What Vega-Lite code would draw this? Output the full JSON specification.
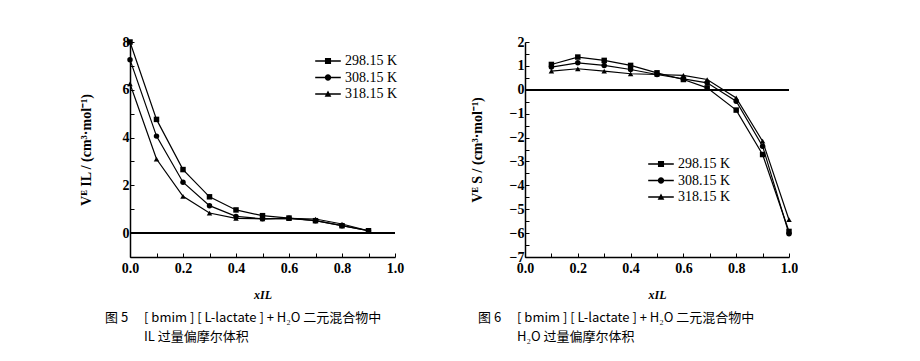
{
  "$schema": "https://vega.github.io/schema/vega-lite/v6.json",
  "autosize": {"type": "pad"},
  "padding": {"left": 79, "top": 35, "right": 0, "bottom": 0},
  "bounds": "flush",
  "spacing": 130,
  "datasets": {
    "fig5": [
      {"x": 0.0, "y": 8.0, "T": "298.15 K"}, {"x": 0.1, "y": 4.76, "T": "298.15 K"}, {"x": 0.2, "y": 2.66, "T": "298.15 K"}, {"x": 0.3, "y": 1.52, "T": "298.15 K"}, {"x": 0.4, "y": 0.97, "T": "298.15 K"}, {"x": 0.5, "y": 0.73, "T": "298.15 K"}, {"x": 0.6, "y": 0.63, "T": "298.15 K"}, {"x": 0.7, "y": 0.52, "T": "298.15 K"}, {"x": 0.8, "y": 0.31, "T": "298.15 K"}, {"x": 0.9, "y": 0.1, "T": "298.15 K"},
      {"x": 0.0, "y": 7.26, "T": "308.15 K"}, {"x": 0.1, "y": 4.06, "T": "308.15 K"}, {"x": 0.2, "y": 2.13, "T": "308.15 K"}, {"x": 0.3, "y": 1.15, "T": "308.15 K"}, {"x": 0.4, "y": 0.7, "T": "308.15 K"}, {"x": 0.5, "y": 0.6, "T": "308.15 K"}, {"x": 0.6, "y": 0.62, "T": "308.15 K"}, {"x": 0.7, "y": 0.52, "T": "308.15 K"}, {"x": 0.8, "y": 0.31, "T": "308.15 K"}, {"x": 0.9, "y": 0.1, "T": "308.15 K"},
      {"x": 0.0, "y": 6.25, "T": "318.15 K"}, {"x": 0.1, "y": 3.1, "T": "318.15 K"}, {"x": 0.2, "y": 1.54, "T": "318.15 K"}, {"x": 0.3, "y": 0.84, "T": "318.15 K"}, {"x": 0.4, "y": 0.62, "T": "318.15 K"}, {"x": 0.5, "y": 0.6, "T": "318.15 K"}, {"x": 0.6, "y": 0.62, "T": "318.15 K"}, {"x": 0.7, "y": 0.59, "T": "318.15 K"}, {"x": 0.8, "y": 0.38, "T": "318.15 K"}, {"x": 0.9, "y": 0.1, "T": "318.15 K"}
    ],
    "fig6": [
      {"x": 0.1, "y": 1.06, "T": "298.15 K"}, {"x": 0.2, "y": 1.37, "T": "298.15 K"}, {"x": 0.3, "y": 1.23, "T": "298.15 K"}, {"x": 0.4, "y": 1.02, "T": "298.15 K"}, {"x": 0.5, "y": 0.71, "T": "298.15 K"}, {"x": 0.6, "y": 0.43, "T": "298.15 K"}, {"x": 0.69, "y": 0.08, "T": "298.15 K"}, {"x": 0.8, "y": -0.85, "T": "298.15 K"}, {"x": 0.9, "y": -2.71, "T": "298.15 K"}, {"x": 1.0, "y": -5.93, "T": "298.15 K"},
      {"x": 0.1, "y": 0.95, "T": "308.15 K"}, {"x": 0.2, "y": 1.13, "T": "308.15 K"}, {"x": 0.3, "y": 1.02, "T": "308.15 K"}, {"x": 0.4, "y": 0.85, "T": "308.15 K"}, {"x": 0.5, "y": 0.64, "T": "308.15 K"}, {"x": 0.6, "y": 0.46, "T": "308.15 K"}, {"x": 0.69, "y": 0.29, "T": "308.15 K"}, {"x": 0.8, "y": -0.48, "T": "308.15 K"}, {"x": 0.9, "y": -2.36, "T": "308.15 K"}, {"x": 1.0, "y": -6.03, "T": "308.15 K"},
      {"x": 0.1, "y": 0.78, "T": "318.15 K"}, {"x": 0.2, "y": 0.88, "T": "318.15 K"}, {"x": 0.3, "y": 0.78, "T": "318.15 K"}, {"x": 0.4, "y": 0.67, "T": "318.15 K"}, {"x": 0.5, "y": 0.64, "T": "318.15 K"}, {"x": 0.6, "y": 0.6, "T": "318.15 K"}, {"x": 0.69, "y": 0.43, "T": "318.15 K"}, {"x": 0.8, "y": -0.34, "T": "318.15 K"}, {"x": 0.9, "y": -2.15, "T": "318.15 K"}, {"x": 1.0, "y": -5.44, "T": "318.15 K"}
    ]
  },
  "hconcat": [
    {
      "width": 265,
      "height": 215,
      "title": {"text": ["图 5\u2003 [ bmim ] [ L-lactate ] + H₂O 二元混合物中", "\u200b\u2003\u2003\u2003IL 过量偏摩尔体积"], "orient": "bottom", "anchor": "start", "frame": "group", "dx": -25},
      "data": {"name": "fig5"},
      "resolve": {"scale": {"shape": "independent"}, "legend": {"shape": "independent"}},
      "layer": [
        {
          "mark": {"type": "line", "color": "black", "strokeWidth": 1.2},
          "encoding": {
            "x": {"field": "x", "type": "quantitative", "scale": {"domain": [0, 1], "nice": false}, "axis": {"title": "xIL", "tickCount": 100, "labelOverlap": false, "values": [0, 0.1, 0.2, 0.3, 0.4, 0.5, 0.6, 0.7, 0.8, 0.9, 1.0], "labelExpr": "round(datum.value*10) % 2 == 0 ? format(datum.value, '.1f') : ''"}},
            "y": {"field": "y", "type": "quantitative", "scale": {"domain": [-1, 8], "nice": false}, "axis": {"title": "Vᴱ IL / (cm³·mol⁻¹)", "titlePadding": 29, "tickCount": 100, "labelOverlap": false, "values": [-1, 0, 1, 2, 3, 4, 5, 6, 7, 8], "labelExpr": "datum.value % 2 == 0 ? format(datum.value, 'd') : ''"}},
            "detail": {"field": "T"}
          }
        },
        {"mark": {"type": "rule", "color": "black", "strokeWidth": 1}, "encoding": {"y": {"datum": 0, "type": "quantitative", "axis": {"title": "Vᴱ IL / (cm³·mol⁻¹)", "titlePadding": 29, "tickCount": 100, "labelOverlap": false, "values": [-1, 0, 1, 2, 3, 4, 5, 6, 7, 8], "labelExpr": "datum.value % 2 == 0 ? format(datum.value, 'd') : ''"}}}},
        {
          "mark": {"type": "point", "filled": true, "color": "black", "size": 30, "opacity": 1},
          "encoding": {
            "x": {"field": "x", "type": "quantitative"},
            "y": {"field": "y", "type": "quantitative"},
            "shape": {"field": "T", "type": "nominal", "scale": {"domain": ["298.15 K", "308.15 K", "318.15 K"], "range": ["square", "circle", "triangle-up"]}, "legend": null}
          }
        },
        {
          "mark": {"type": "point", "filled": true, "color": "black", "size": 30, "opacity": 0},
          "encoding": {
            "x": {"field": "x", "type": "quantitative"},
            "y": {"field": "y", "type": "quantitative"},
            "shape": {"field": "T", "type": "nominal", "scale": {"domain": ["298.15 K", "308.15 K", "318.15 K"], "range": ["M-1.6,-0.08H1.6V0.08H-1.6Z M-0.38,-0.38H0.38V0.38H-0.38Z", "M-1.6,-0.08H1.6V0.08H-1.6Z M-0.4,0A0.4,0.4 0 1,1 0.4,0A0.4,0.4 0 1,1 -0.4,0Z", "M-1.6,-0.08H1.6V0.08H-1.6Z M0,-0.45L0.42,0.33L-0.42,0.33Z"]},
              "legend": {"orient": "none", "legendX": 190, "legendY": 11, "title": null, "padding": 0, "symbolSize": 256, "symbolOpacity": 1, "symbolFillColor": "black", "symbolStrokeWidth": 0, "labelFont": "Liberation Serif", "labelFontSize": 14, "labelColor": "black", "labelOffset": 9, "rowPadding": 1.5}}
          }
        }
      ]
    },
    {
      "width": 264,
      "height": 215,
      "title": {"text": ["图 6\u2003 [ bmim ] [ L-lactate ] + H₂O 二元混合物中", "\u200b\u2003\u2003\u2003H₂O 过量偏摩尔体积"], "orient": "bottom", "anchor": "start", "frame": "group", "dx": -47},
      "data": {"name": "fig6"},
      "resolve": {"scale": {"shape": "independent"}, "legend": {"shape": "independent"}},
      "layer": [
        {
          "mark": {"type": "line", "color": "black", "strokeWidth": 1.2},
          "encoding": {
            "x": {"field": "x", "type": "quantitative", "scale": {"domain": [0, 1], "nice": false}, "axis": {"title": "xIL", "tickCount": 100, "labelOverlap": false, "values": [0, 0.1, 0.2, 0.3, 0.4, 0.5, 0.6, 0.7, 0.8, 0.9, 1.0], "labelExpr": "round(datum.value*10) % 2 == 0 ? format(datum.value, '.1f') : ''"}},
            "y": {"field": "y", "type": "quantitative", "scale": {"domain": [-7, 2], "nice": false}, "axis": {"title": "Vᴱ S / (cm³·mol⁻¹)", "titlePadding": 25, "tickCount": 100, "labelOverlap": false, "values": [-7, -6.5, -6, -5.5, -5, -4.5, -4, -3.5, -3, -2.5, -2, -1.5, -1, -0.5, 0, 0.5, 1, 1.5, 2], "labelExpr": "datum.value % 1 == 0 ? format(datum.value, 'd') : ''"}},
            "detail": {"field": "T"}
          }
        },
        {"mark": {"type": "rule", "color": "black", "strokeWidth": 1}, "encoding": {"y": {"datum": 0, "type": "quantitative", "axis": {"title": "Vᴱ S / (cm³·mol⁻¹)", "titlePadding": 25, "tickCount": 100, "labelOverlap": false, "values": [-7, -6.5, -6, -5.5, -5, -4.5, -4, -3.5, -3, -2.5, -2, -1.5, -1, -0.5, 0, 0.5, 1, 1.5, 2], "labelExpr": "datum.value % 1 == 0 ? format(datum.value, 'd') : ''"}}}},
        {
          "mark": {"type": "point", "filled": true, "color": "black", "size": 30, "opacity": 1},
          "encoding": {
            "x": {"field": "x", "type": "quantitative"},
            "y": {"field": "y", "type": "quantitative"},
            "shape": {"field": "T", "type": "nominal", "scale": {"domain": ["298.15 K", "308.15 K", "318.15 K"], "range": ["square", "circle", "triangle-up"]}, "legend": null}
          }
        },
        {
          "mark": {"type": "point", "filled": true, "color": "black", "size": 30, "opacity": 0},
          "encoding": {
            "x": {"field": "x", "type": "quantitative"},
            "y": {"field": "y", "type": "quantitative"},
            "shape": {"field": "T", "type": "nominal", "scale": {"domain": ["298.15 K", "308.15 K", "318.15 K"], "range": ["M-1.6,-0.08H1.6V0.08H-1.6Z M-0.38,-0.38H0.38V0.38H-0.38Z", "M-1.6,-0.08H1.6V0.08H-1.6Z M-0.4,0A0.4,0.4 0 1,1 0.4,0A0.4,0.4 0 1,1 -0.4,0Z", "M-1.6,-0.08H1.6V0.08H-1.6Z M0,-0.45L0.42,0.33L-0.42,0.33Z"]},
              "legend": {"orient": "none", "legendX": 128, "legendY": 114, "title": null, "padding": 0, "symbolSize": 256, "symbolOpacity": 1, "symbolFillColor": "black", "symbolStrokeWidth": 0, "labelFont": "Liberation Serif", "labelFontSize": 14, "labelColor": "black", "labelOffset": 9, "rowPadding": 1.5}}
          }
        }
      ]
    }
  ],
  "resolve": {"scale": {"shape": "independent"}, "legend": {"shape": "independent"}},
  "config": {
    "view": {"stroke": null},
    "font": "Liberation Serif",
    "axis": {
      "grid": false,
      "domainColor": "black",
      "domainWidth": 1.5,
      "tickColor": "black",
      "tickWidth": 1,
      "tickSize": -4,
      "labelFont": "Liberation Serif",
      "labelFontWeight": "bold",
      "labelFontSize": 14,
      "labelColor": "black",
      "labelFlush": false,
      "labelOverlap": false,
      "titleFont": "Liberation Serif",
      "titleColor": "black",
      "titleFontWeight": "bold"
    },
    "axisX": {"titleFontStyle": "italic", "titleFontSize": 12, "titlePadding": 14, "labelPadding": 8},
    "axisY": {"titleFontSize": 14, "labelPadding": 5},
    "title": {"font": "Noto Sans CJK SC", "fontSize": 13, "fontWeight": "normal", "color": "black", "lineHeight": 19, "offset": 12}
  }
}
